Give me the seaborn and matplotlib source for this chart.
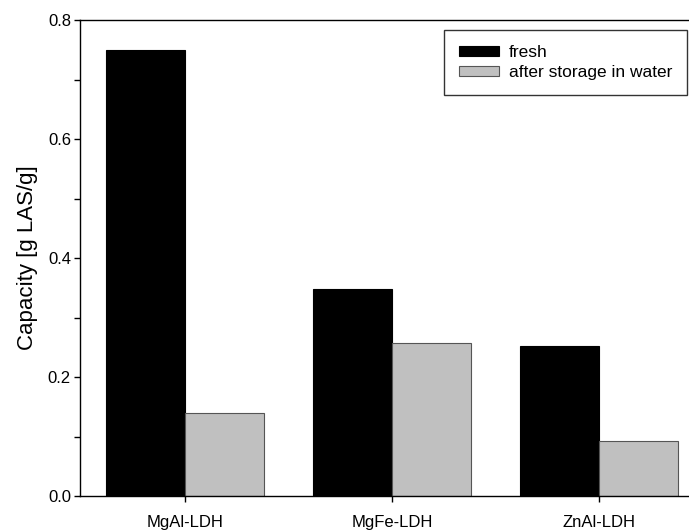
import pandas as pd
import matplotlib.pyplot as plt
import seaborn as sns

materials = ["MgAl-LDH", "MgFe-LDH", "ZnAl-LDH"]
fresh = [0.750, 0.348, 0.252]
after_water = [0.140, 0.257, 0.093]
series_names = ["fresh", "after storage in water"]

df = pd.DataFrame({
    "material": materials * 2,
    "capacity": fresh + after_water,
    "state": [series_names[0]] * 3 + [series_names[1]] * 3,
})

sns.set_style("ticks")
plt.rcParams['font.family'] = ['Liberation Sans', 'DejaVu Sans']
plt.rcParams['text.color'] = 'black'
plt.rcParams['xtick.color'] = 'black'
plt.rcParams['ytick.color'] = 'black'
plt.rcParams['axes.labelcolor'] = 'black'

fig = plt.figure(figsize=(6.89, 5.3), dpi=100)
ax = fig.add_axes([0.116, 0.064, 0.884, 0.898])

sns.barplot(data=df, x="material", y="capacity", hue="state",
            palette=["black", "#c0c0c0"], width=0.765, gap=0,
            saturation=1, ax=ax)

# gray bars get a darker outline, black ones stay black
for bar in ax.patches:
    fc = bar.get_facecolor()
    if fc[0] > 0.5:
        bar.set_edgecolor("#555555")
    else:
        bar.set_edgecolor("black")
    bar.set_linewidth(0.8)

ax.set_xlim(-0.507, 2.435)
ax.set_ylim(0, 0.8)
ax.set_yticks([0.0, 0.2, 0.4, 0.6, 0.8])
ax.set_yticks([0.1, 0.3, 0.5, 0.7], minor=True)
ax.yaxis.set_major_formatter(plt.FormatStrFormatter('%.1f'))
ax.tick_params(axis='both', which='major', direction='out', length=4.5, width=1,
               labelsize=12)
ax.tick_params(axis='y', which='minor', direction='out', length=4.5, width=1)
ax.tick_params(axis='x', pad=9)
ax.tick_params(axis='y', pad=2)

for side in ["left", "bottom", "top"]:
    ax.spines[side].set_color("black")
    ax.spines[side].set_linewidth(1)
ax.spines["right"].set_visible(False)

ax.set_xlabel("")
ax.set_ylabel("Capacity [g LAS/g]", fontsize=16, labelpad=7)

leg = ax.legend(loc="upper right", bbox_to_anchor=(0.997, 0.979), fontsize=12.5,
                frameon=True, fancybox=False, edgecolor="black",
                handlelength=2.3, handleheight=0.5, handletextpad=0.6,
                borderpad=0.85, borderaxespad=0, labelspacing=0.3, title=None)
leg.get_frame().set_linewidth(1)

fig.savefig("out.png", dpi=100)
